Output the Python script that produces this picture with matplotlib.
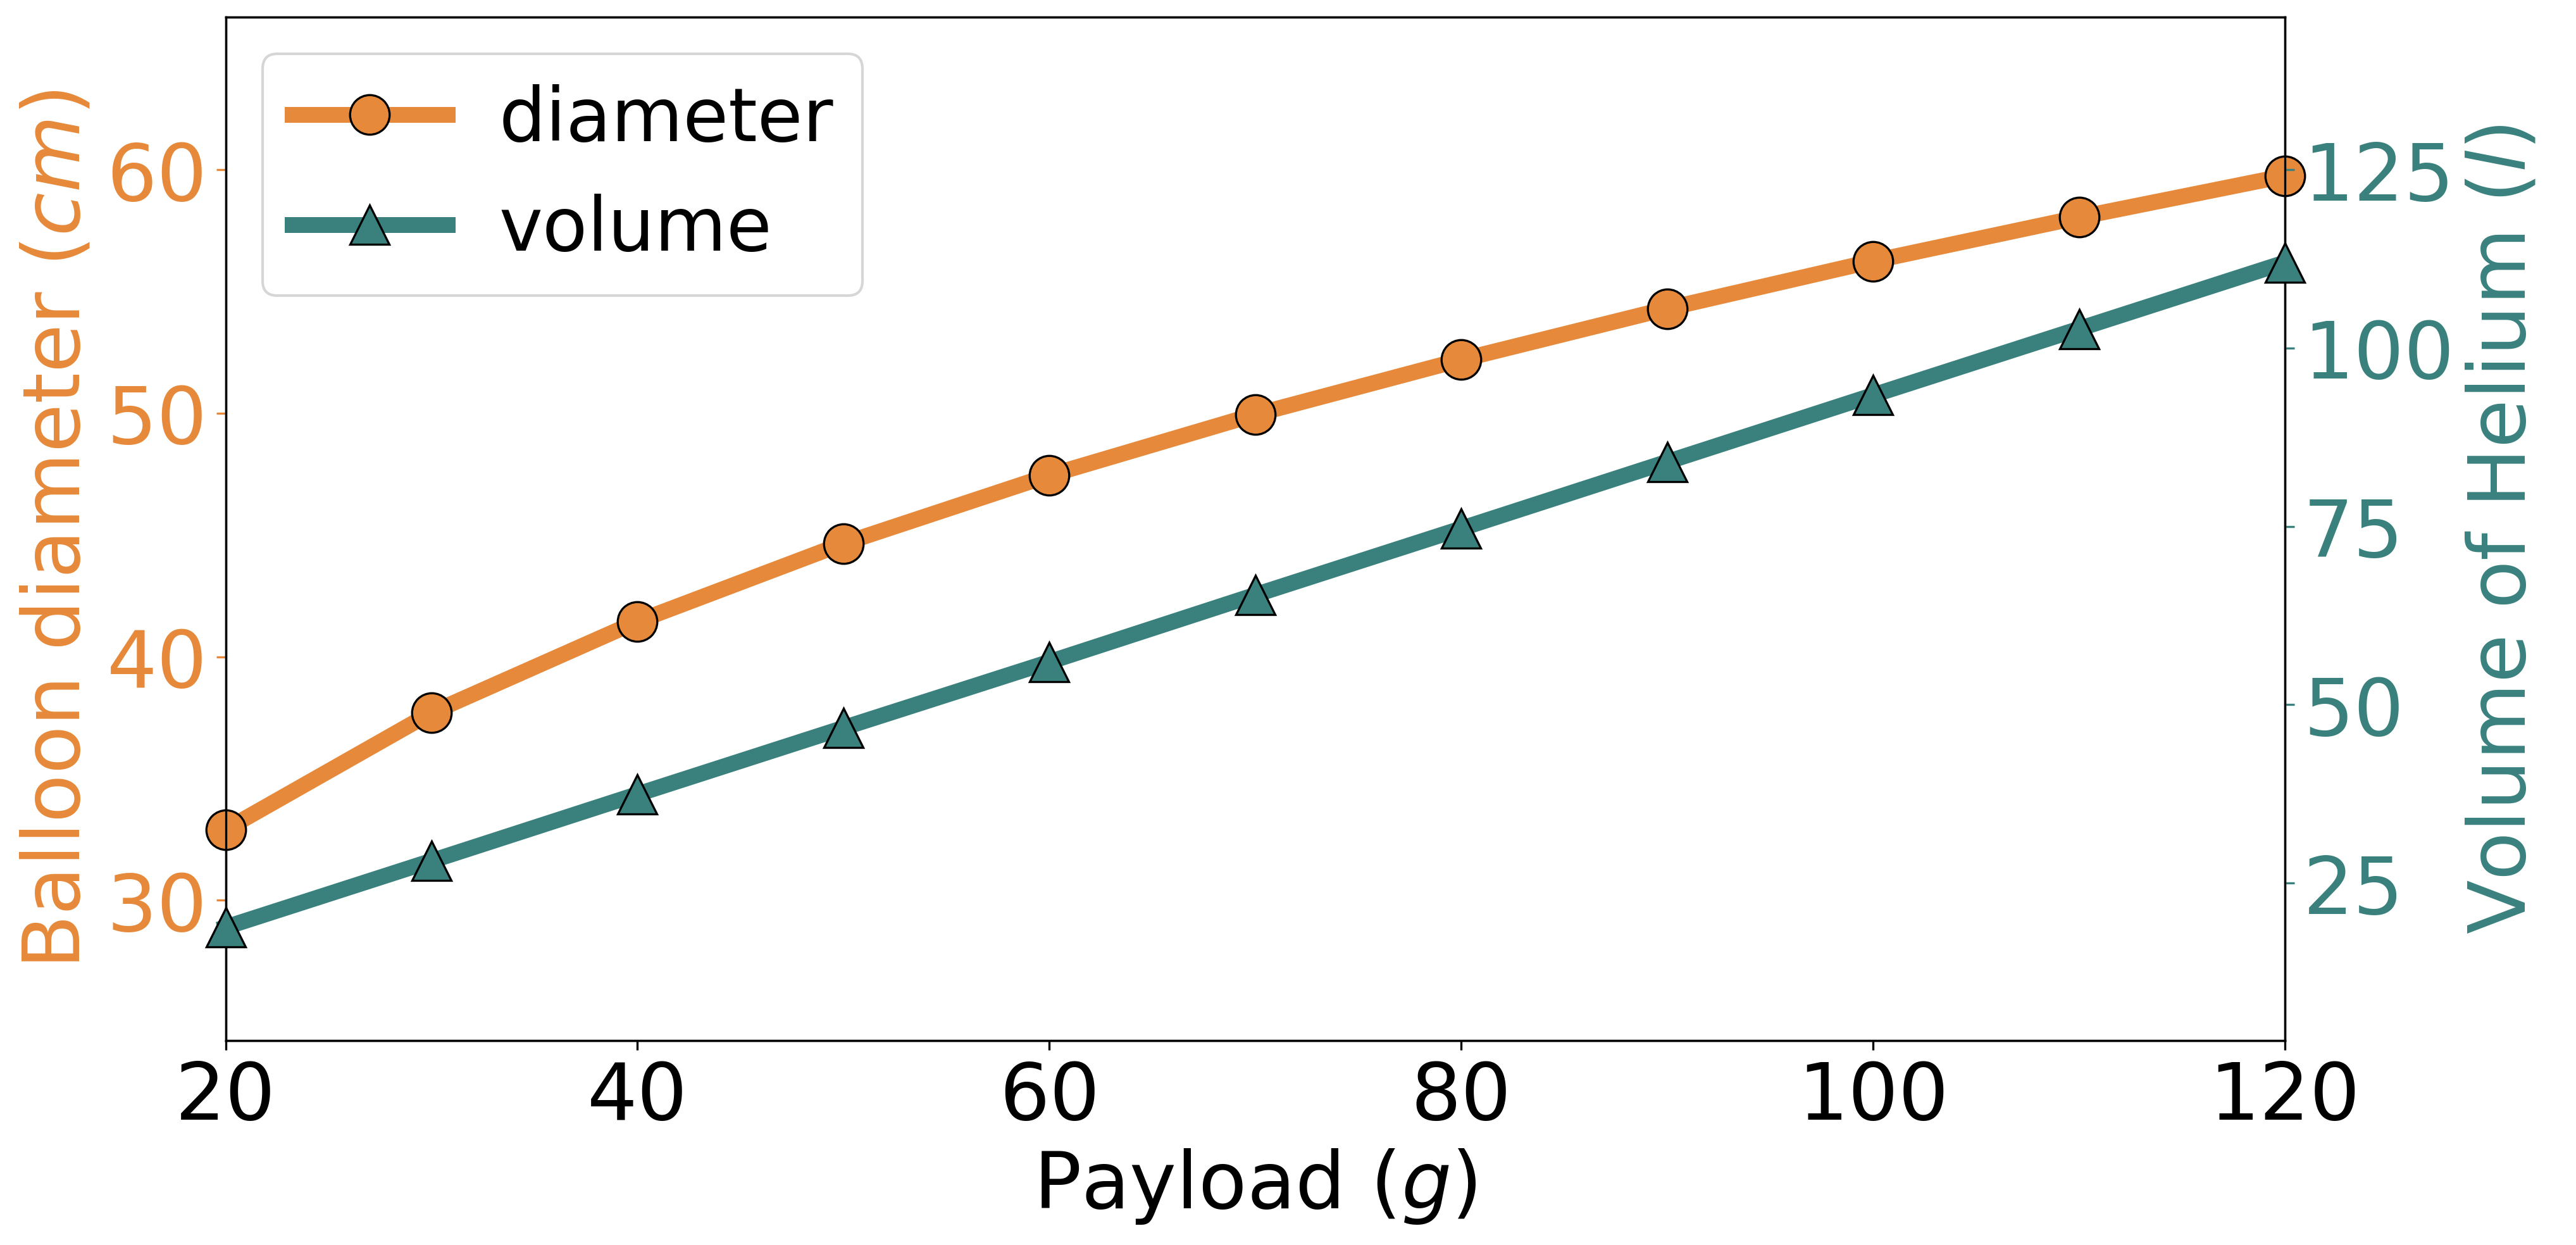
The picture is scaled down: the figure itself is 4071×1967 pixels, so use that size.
import numpy as np
import matplotlib
matplotlib.use("Agg")
import matplotlib.pyplot as plt

payload = [20, 30, 40, 50, 60, 70, 80, 90, 100, 110, 120]
diameter = [32.9, 37.7, 41.45, 44.65, 47.45, 49.95, 52.2, 54.3, 56.25, 58.05, 59.75]
volume = [18.8, 28.1, 37.45, 46.75, 56.0, 65.4, 74.7, 84.05, 93.4, 102.7, 112.0]

orange = "#E6893A"
teal = "#3A817E"
fs = 30

fig = plt.figure(figsize=(4071 / 300, 1968 / 300), dpi=300)
ax1 = fig.add_axes([0.0876, 0.1641, 0.7994, 0.8216])
ax2 = ax1.twinx()

l1, = ax1.plot(payload, diameter, color=orange, linewidth=6, marker="o",
               markersize=15, markerfacecolor=orange, markeredgecolor="black",
               markeredgewidth=0.8, label="diameter", clip_on=False, zorder=3)
l2, = ax2.plot(payload, volume, color=teal, linewidth=6, marker="^",
               markersize=15, markerfacecolor=teal, markeredgecolor="black",
               markeredgewidth=0.8, label="volume", clip_on=False, zorder=3)

ax1.set_xlim(20, 120)
ax1.set_xticks([20, 40, 60, 80, 100, 120])
ax1.set_ylim(24.23, 66.27)
ax1.set_yticks([30, 40, 50, 60])
ax2.set_ylim(2.9, 146.4)
ax2.set_yticks([25, 50, 75, 100, 125])

ax1.tick_params(axis="x", labelsize=fs, colors="black")
ax1.tick_params(axis="y", labelsize=fs, colors=orange)
ax2.tick_params(axis="y", labelsize=fs, colors=teal)

ax1.set_xlabel("Payload ($g$)", fontsize=fs)
ax1.set_ylabel("Balloon diameter ($cm$)", fontsize=fs, color=orange)
ax2.set_ylabel("Volume of Helium ($l$)", fontsize=fs, color=teal)

ax1.legend(handles=[l1, l2], loc="upper left", fontsize=28,
           handlelength=2.1, handletextpad=0.7)

fig.savefig("out.png", dpi=300)
